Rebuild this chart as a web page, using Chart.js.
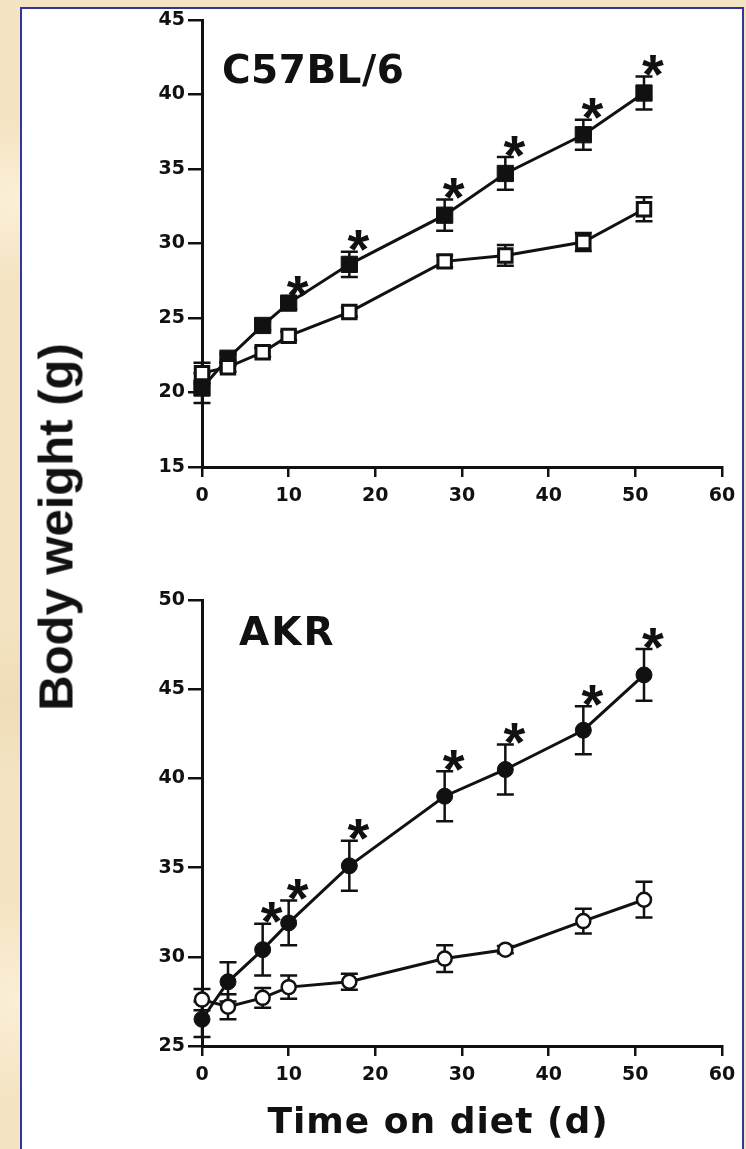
<!DOCTYPE html>
<html>
<head>
<meta charset="utf-8">
<script src="https://cdn.jsdelivr.net/npm/chart.js@4.4.1/dist/chart.umd.min.js"></script>
<style>
  html, body { margin: 0; padding: 0; }
  body {
    width: 746px; height: 1149px; overflow: hidden; position: relative;
    background: #f4e4c3;
    background-image:
      radial-gradient(ellipse at 10px 200px, rgba(255,245,225,0.7), rgba(255,245,225,0) 60px),
      radial-gradient(ellipse at 8px 700px, rgba(236,214,175,0.6), rgba(236,214,175,0) 80px),
      radial-gradient(ellipse at 12px 1000px, rgba(255,246,228,0.6), rgba(255,246,228,0) 70px);
  }
  #panel {
    position: absolute; left: 20px; top: 7px; width: 724px; height: 1170px;
    background: #fff; border: 2px solid #34349c; box-sizing: border-box;
  }
  canvas { position: absolute; left: 0; }
  #topChart { top: 0; }
  #bottomChart { top: 560px; }
  #yTitle {
    position: absolute; left: 56px; top: 527px;
    font: bold 49px "Liberation Sans"; line-height: 49px; color: #111;
    white-space: nowrap;
    transform: translate(-50%, -50%) rotate(-90deg);
  }
</style>
</head>
<body>
<div id="panel"></div>
<canvas id="topChart" width="746" height="530"></canvas>
<canvas id="bottomChart" width="746" height="589"></canvas>
<div id="yTitle">Body weight (g)</div>
<script>
// Days on diet at which mice were weighed
const days = [0, 3, 7, 10, 17, 28, 35, 44, 51];

// C57BL/6 body weight (g), mean and SEM
const c57HighFat    = [20.3, 22.3, 24.5, 26.0, 28.6, 31.9, 34.7, 37.3, 40.1];
const c57HighFatErr = [1.0, 0.3, 0.3, 0.4, 0.85, 1.05, 1.1, 1.0, 1.1];
const c57Chow       = [21.3, 21.7, 22.7, 23.8, 25.4, 28.8, 29.2, 30.1, 32.3];
const c57ChowErr    = [0.7, 0.3, 0.3, 0.3, 0.3, 0.4, 0.7, 0.6, 0.8];
const c57Signif     = [false, false, false, true, true, true, true, true, true];

// AKR body weight (g), mean and SEM
const akrHighFat    = [26.5, 28.6, 30.4, 31.9, 35.1, 39.0, 40.5, 42.7, 45.8];
const akrHighFatErr = [1.0, 1.1, 1.45, 1.25, 1.4, 1.4, 1.4, 1.35, 1.45];
const akrChow       = [27.6, 27.2, 27.7, 28.3, 28.6, 29.9, 30.4, 32.0, 33.2];
const akrChowErr    = [0.6, 0.7, 0.55, 0.65, 0.45, 0.75, 0.2, 0.7, 1.0];
const akrSignif     = [false, false, true, true, true, true, true, true, true];

// Axis ticks
const xTicks = [0, 10, 20, 30, 40, 50, 60];
const c57YTicks = [15, 20, 25, 30, 35, 40, 45];
const akrYTicks = [25, 30, 35, 40, 45, 50];

const INK = '#111';
const FONT = 'DejaVu Sans';
Chart.defaults.font.family = FONT;
Chart.defaults.color = INK;

const toPoints = (vals) => vals.map((v, i) => ({ x: days[i], y: v }));

// Vertical SEM bars with caps, drawn beneath the markers
const errorBars = {
  id: 'errorBars',
  beforeDatasetsDraw(chart, args, opts) {
    const { ctx, scales: { x, y } } = chart;
    ctx.save();
    ctx.strokeStyle = INK;
    ctx.lineWidth = opts.width;
    chart.data.datasets.forEach((ds) => {
      if (!ds.errors) return;
      ds.data.forEach((p, j) => {
        const e = ds.errors[j];
        const px = x.getPixelForValue(p.x);
        const yHi = y.getPixelForValue(p.y + e);
        const yLo = y.getPixelForValue(p.y - e);
        ctx.beginPath();
        ctx.moveTo(px, yHi); ctx.lineTo(px, yLo);
        ctx.moveTo(px - opts.cap, yHi); ctx.lineTo(px + opts.cap, yHi);
        ctx.moveTo(px - opts.cap, yLo); ctx.lineTo(px + opts.cap, yLo);
        ctx.stroke();
      });
    });
    ctx.restore();
  }
};

// Asterisks marking significant differences, placed above the upper cap
const signifStars = {
  id: 'signifStars',
  afterDatasetsDraw(chart, args, opts) {
    const { ctx, scales: { x, y } } = chart;
    ctx.save();
    ctx.fillStyle = INK;
    ctx.font = `bold ${opts.size}px "${opts.family}"`;
    ctx.textAlign = 'center';
    ctx.textBaseline = 'alphabetic';
    const m = ctx.measureText('*');
    const midOffset = (m.actualBoundingBoxAscent - m.actualBoundingBoxDescent) / 2;
    chart.data.datasets.forEach((ds) => {
      if (!ds.signif) return;
      ds.data.forEach((p, j) => {
        if (!ds.signif[j]) return;
        const px = x.getPixelForValue(p.x) + opts.dx;
        const top = y.getPixelForValue(p.y + ds.errors[j]) - opts.dy;
        ctx.fillText('*', px, top + midOffset);
      });
    });
    ctx.restore();
  }
};

// Strain name inside the plot area and an optional x-axis caption
const panelText = {
  id: 'panelText',
  afterDraw(chart, args, opts) {
    const { ctx, chartArea } = chart;
    ctx.save();
    ctx.fillStyle = INK;
    ctx.textBaseline = 'alphabetic';
    ctx.font = `bold ${opts.label.size}px "${FONT}"`;
    ctx.letterSpacing = opts.label.spacing + 'px';
    ctx.textAlign = 'left';
    ctx.fillText(opts.label.text, chartArea.left + opts.label.dx, chartArea.top + opts.label.dy);
    if (opts.caption) {
      const c = opts.caption;
      ctx.font = `bold ${c.size}px "${FONT}"`;
      ctx.letterSpacing = c.spacing + 'px';
      ctx.textAlign = 'center';
      ctx.fillText(c.text, c.centerX, chartArea.bottom + c.dy);
    }
    ctx.restore();
  }
};

function makeScales(yTicks, xHeight) {
  const tickFont = { family: FONT, weight: 'bold', size: 19 };
  return {
    x: {
      type: 'linear',
      min: xTicks[0], max: xTicks[xTicks.length - 1],
      afterBuildTicks: (s) => { s.ticks = xTicks.map((v) => ({ value: v })); },
      ticks: { font: tickFont, color: INK, padding: 8 },
      grid: { drawOnChartArea: false, drawTicks: true, tickLength: 10, color: INK, lineWidth: 2.5 },
      border: { display: true, color: INK, width: 3 },
      afterFit: (s) => { s.height = xHeight; }
    },
    y: {
      type: 'linear',
      min: yTicks[0], max: yTicks[yTicks.length - 1],
      afterBuildTicks: (s) => { s.ticks = yTicks.map((v) => ({ value: v })); },
      ticks: { font: tickFont, color: INK, padding: 3 },
      grid: { drawOnChartArea: false, drawTicks: true, tickLength: 14, color: INK, lineWidth: 2.5 },
      border: { display: true, color: INK, width: 3 },
      afterFit: (s) => { s.width = 202; }
    }
  };
}

function makeChart(canvasId, cfg) {
  return new Chart(document.getElementById(canvasId), {
    type: 'line',
    data: {
      datasets: [
        {
          label: 'Chow',
          data: toPoints(cfg.chow), errors: cfg.chowErr,
          borderColor: INK, borderWidth: 3,
          pointStyle: cfg.shape, pointRadius: cfg.openRadius,
          pointBackgroundColor: '#fff', pointBorderColor: INK, pointBorderWidth: cfg.openBorder,
          tension: 0, clip: false
        },
        {
          label: 'High-fat',
          data: toPoints(cfg.fat), errors: cfg.fatErr, signif: cfg.signif,
          borderColor: INK, borderWidth: 3,
          pointStyle: cfg.shape, pointRadius: cfg.filledRadius,
          pointBackgroundColor: INK, pointBorderColor: INK, pointBorderWidth: 1,
          tension: 0, clip: false
        }
      ]
    },
    options: {
      responsive: false,
      animation: false,
      events: [],
      layout: { padding: { top: cfg.padTop, right: 24, bottom: 0, left: 0 } },
      scales: makeScales(cfg.yTicks, cfg.xHeight),
      plugins: {
        legend: { display: false },
        tooltip: { enabled: false },
        errorBars: { width: 2.5, cap: 8.5 },
        signifStars: { family: 'Liberation Sans', size: 56, dx: 9, dy: 11 },
        panelText: { label: cfg.label, caption: cfg.caption }
      }
    },
    plugins: [errorBars, signifStars, panelText]
  });
}

makeChart('topChart', {
  chow: c57Chow, chowErr: c57ChowErr,
  fat: c57HighFat, fatErr: c57HighFatErr, signif: c57Signif,
  shape: 'rect', openRadius: 9.5, openBorder: 3, filledRadius: 11.5,
  yTicks: c57YTicks, padTop: 20, xHeight: 63,
  label: { text: 'C57BL/6', size: 39, dx: 20, dy: 63, spacing: 0.5 },
  caption: null
});

makeChart('bottomChart', {
  chow: akrChow, chowErr: akrChowErr,
  fat: akrHighFat, fatErr: akrHighFatErr, signif: akrSignif,
  shape: 'circle', openRadius: 7, openBorder: 2.5, filledRadius: 8,
  yTicks: akrYTicks, padTop: 40, xHeight: 103,
  label: { text: 'AKR', size: 39, dx: 37, dy: 45, spacing: 2 },
  caption: { text: 'Time on diet (d)', size: 36, spacing: 1, centerX: 438, dy: 87 }
});
</script>
</body>
</html>
